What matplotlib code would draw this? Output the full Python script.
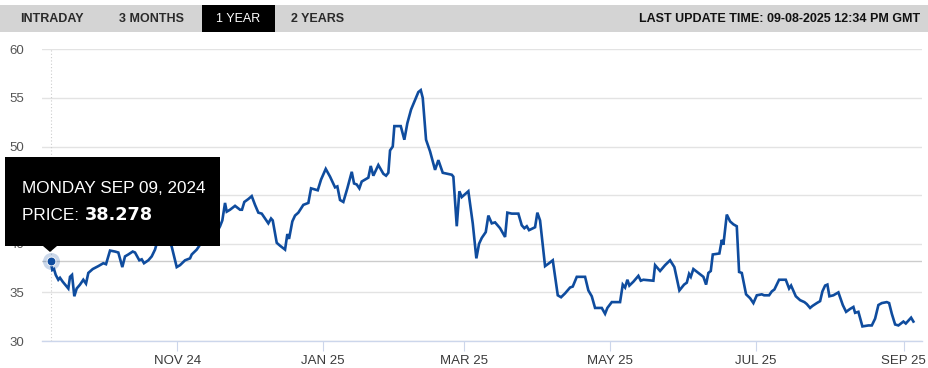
import numpy as np
import matplotlib
matplotlib.use("Agg")
import matplotlib.pyplot as plt
import matplotlib.dates as mdates
from matplotlib.patches import Rectangle, Polygon

# ---------------- data ----------------
start_date = "2024-09-09"
day_offsets = [
    0, 0.75, 1.46, 2.18, 3.26, 3.97, 5.10, 6.78, 7.45, 8.16, 9.00, 9.96, 10.96, 12.34,
    13.72, 14.85, 15.82, 17.66, 20.0, 22.09, 23.22, 24.9, 26.99, 28.37, 30.04, 31.17,
    32.55, 34.39, 35.36, 37.15, 38.16, 39.12, 40.92, 42.34, 43.72, 44.98, 46.65, 48.3,
    49.8, 50.71, 52.8, 54.18, 56.28, 58.37, 59.08, 61.17, 62.55, 64.6, 66.7, 68.8,
    70.92, 71.88, 73.01, 73.72, 75.1, 77.2, 79.29, 80.1, 81.09, 82.76, 84.18, 85.56,
    86.95, 88.37, 89.75, 91.13, 92.26, 92.97, 94.64, 96.03, 98.12, 99.08, 99.79,
    101.17, 102.3, 103.68, 105.77, 107.87, 109.0, 111.8, 113.18, 115.15, 116.95,
    119.04, 120.0, 121.13, 122.51, 124.18, 126.03, 126.99, 128.1, 129.2, 130.2,
    132.97, 133.97, 135.06, 137.15, 139.25, 140.38, 141.34, 142.05, 143.18, 143.85,
    146.53, 148.03, 149.29, 150.84, 153.89, 154.9, 155.73, 157.11, 158.79, 160.88,
    162.26, 164.1, 167.87, 168.54, 169.96, 171.05, 172.05, 174.81, 176.65, 178.16,
    179.29, 180.42, 182.09, 183.18, 184.6, 185.98, 188.08, 190.17, 191.13, 192.97,
    195.73, 197.15, 198.24, 199.25, 200.21, 202.72, 203.68, 204.81, 206.9, 208.58,
    210.13, 212.22, 213.6, 215.27, 217.36, 218.49, 220.17, 223.64, 225.02, 226.44,
    227.82, 230.63, 232.01, 232.97, 234.81, 238.28, 239.41, 240.38, 241.34, 242.18,
    243.85, 245.94, 246.95, 248.03, 252.22, 252.93, 255.02, 257.11, 259.21, 261.0,
    263.1, 265.06, 266.2, 267.15, 267.87, 268.95, 271.05, 273.14, 274.27, 275.23,
    276.23, 277.07, 279.83, 280.84, 281.51, 282.93, 284.31, 285.69, 287.11, 288.08,
    289.21, 291.0, 292.68, 294.06, 295.48, 297.57, 298.54, 300.63, 301.76, 302.85,
    304.81, 307.61, 309.0, 309.83, 311.8, 313.6, 315.4, 316.4, 317.78, 318.74,
    320.59, 321.97, 322.93, 324.06, 325.02, 325.86, 327.53, 329.62, 331.46, 332.85,
    334.52, 335.9, 336.61, 337.99, 339.67, 342.18, 343.6, 344.98, 346.36, 347.78,
    349.87, 350.84, 351.97, 353.35, 354.73, 356.82, 357.82, 358.91, 360.04, 361.0,
]
prices = [
    38.278, 37.3, 37.4, 36.8, 36.3, 36.5, 36.1, 35.6, 35.4, 36.6, 36.8, 34.6, 35.4, 35.8,
    36.3, 35.9, 37.0, 37.4, 37.7, 38.0, 37.9, 39.3, 39.2, 39.1, 37.6, 38.7,
    38.9, 39.2, 39.1, 38.3, 38.4, 38.0, 38.3, 38.7, 39.4, 40.5, 41.3, 41.0,
    40.2, 39.7, 37.6, 37.8, 38.3, 38.5, 38.9, 39.4, 39.9, 40.3, 41.0, 40.8,
    41.8, 42.4, 44.2, 43.3, 43.5, 43.9, 43.5, 43.5, 44.3, 44.6, 44.9, 44.0,
    43.2, 43.1, 42.6, 42.1, 42.6, 42.4, 40.1, 39.8, 39.4, 41.0, 40.5,
    42.3, 42.9, 43.2, 44.0, 44.2, 45.7, 45.5, 46.6, 47.7, 46.9,
    45.8, 45.9, 44.5, 44.3, 45.7, 47.4, 46.2, 46.1, 45.7, 46.4,
    46.8, 48.0, 47.0, 48.1, 47.2, 47.0, 47.3, 49.6, 50.0, 52.1,
    52.1, 50.7, 52.4, 53.8, 55.6, 55.8, 55.0, 50.7, 49.5, 47.6,
    48.6, 47.3, 47.1, 46.9, 41.8, 45.4, 44.8, 45.4, 42.1, 38.5,
    40.0, 40.6, 41.2, 42.9, 42.1, 42.2, 41.6, 40.7, 43.2, 43.1,
    43.1, 41.9, 41.6, 41.8, 41.4, 41.7, 43.2, 42.4, 37.7, 38.0,
    38.3, 34.7, 34.5, 34.9, 35.5, 35.6, 36.6, 36.6, 35.2, 34.6,
    33.4, 33.4, 32.8, 33.4, 34.0, 34.0, 35.8, 35.5, 36.3, 35.7,
    36.1, 36.7, 36.2, 36.3, 36.2, 37.8, 37.2, 37.8, 38.3, 37.6,
    35.2, 35.8, 36.0, 36.9, 36.6, 37.4, 37.0, 36.6, 35.8, 37.0,
    37.2, 38.9, 39.0, 40.4, 39.9, 43.0, 42.3, 42.0, 41.8, 37.1,
    37.0, 34.8, 34.4, 33.9, 34.7, 34.8, 34.7, 34.7, 35.1, 35.3,
    36.3, 36.3, 35.4, 35.7, 34.6, 34.2, 34.0, 33.8, 33.4, 33.6,
    33.9, 34.1, 35.1, 35.7, 35.8, 34.6, 34.7, 35.0, 33.7, 33.0,
    33.3, 33.5, 32.9, 33.0, 31.5, 31.6, 31.6, 32.3, 33.7, 33.9,
    34.0, 33.9, 32.8, 31.7, 31.6, 32.0, 31.8, 32.1, 32.4, 32.0,
]
x_tick_dates = ["2024-11-01", "2025-01-01", "2025-03-01", "2025-05-01", "2025-07-01", "2025-09-01"]
x_tick_labels = ["NOV 24", "JAN 25", "MAR 25", "MAY 25", "JUL 25", "SEP 25"]
y_ticks = [30, 35, 40, 45, 50, 55, 60]
tabs = ["INTRADAY", "3 MONTHS", "1 YEAR", "2 YEARS"]
active_tab = "1 YEAR"
update_text = "LAST UPDATE TIME: 09-08-2025 12:34 PM GMT"
tooltip_date = "MONDAY SEP 09, 2024"
tooltip_price = "38.278"

# ---------------- figure ----------------
W, H = 929, 368
fig = plt.figure(figsize=(W / 100, H / 100), dpi=100)
fig.patch.set_facecolor("white")
FONT = "Liberation Sans"


def fx(px):
    return px / W


def fy(py):
    return 1 - py / H


start = mdates.date2num(np.datetime64(start_date))
xs = start + np.array(day_offsets)

ax = fig.add_axes([fx(42), fy(341), fx(922) - fx(42), fy(49.3) - fy(341)])
ax.set_xlim(start - 3.56, start + 364.6)
ax.set_ylim(30, 60)
for s in ["top", "right", "left"]:
    ax.spines[s].set_visible(False)
ax.spines["bottom"].set_color("#ccd6eb")
ax.spines["bottom"].set_linewidth(1)

ax.set_yticks(y_ticks)
ax.set_yticklabels([str(v) for v in y_ticks], fontsize=9.5, color="#555555", family=FONT)
ax.tick_params(axis="y", length=0, pad=13)
ax.grid(axis="y", color="#e3e3e3", linewidth=1)
ax.set_axisbelow(True)

tick_nums = [mdates.date2num(np.datetime64(d)) for d in x_tick_dates]
ax.set_xticks(tick_nums)
ax.set_xticklabels(x_tick_labels, fontsize=9.5, color="#3a3a3a", family=FONT)
ax.tick_params(axis="x", length=7, color="#ccd6eb", pad=3)

# crosshairs
ax.axhline(prices[0], color="#cccccc", linewidth=1, zorder=1)
ax.axvline(xs[0], color="#cccccc", linewidth=0.8, linestyle=(0, (1, 2)), zorder=1)

ax.plot(xs, prices, color="#0f4c9e", linewidth=1.9, solid_joinstyle="miter", zorder=3)
ax.scatter([xs[0]], [prices[0]], s=150, color="#0f4c9e", alpha=0.22, zorder=4, linewidths=0)
ax.scatter([xs[0]], [prices[0]], s=40, color="#0f4c9e", edgecolors="white", linewidths=0.6, zorder=5)

# ---------------- tooltip ----------------
tip = Rectangle((fx(5), fy(246)), fx(220) - fx(5), fy(156.7) - fy(246),
                transform=fig.transFigure, facecolor="black", edgecolor="none", zorder=10)
fig.patches.append(tip)
tri = Polygon([[fx(43), fy(246)], [fx(57), fy(246)], [fx(50), fy(252)]], closed=True,
              transform=fig.transFigure, facecolor="black", edgecolor="none", zorder=10)
fig.patches.append(tri)
fig.text(fx(22), fy(193), tooltip_date, color="white", fontsize=12.3, family=FONT,
         va="baseline", ha="left", zorder=11)
t1 = fig.text(fx(22), fy(220), "PRICE: ", color="white", fontsize=12.3, family=FONT,
              va="baseline", ha="left", zorder=11)
fig.canvas.draw()
bb = t1.get_window_extent()
fig.text(bb.x1 / W + fx(1), fy(220), tooltip_price, color="white", fontsize=12.8,
         family=["DejaVu Sans"], fontweight="bold", va="baseline", ha="left", zorder=11)

# ---------------- top bar ----------------
bar = Rectangle((0, fy(32)), 1, fy(5) - fy(32), transform=fig.transFigure,
                facecolor="#d4d4d4", edgecolor="none", zorder=0)
fig.patches.append(bar)
active = Rectangle((fx(202), fy(32)), fx(275) - fx(202), fy(5) - fy(32),
                   transform=fig.transFigure, facecolor="black", edgecolor="none", zorder=1)
fig.patches.append(active)
tab_centers = [52, 152, 238.5, 318]
for lab, cx in zip(tabs, tab_centers):
    is_act = lab == active_tab
    fig.text(fx(cx), fy(18.5), lab, ha="center", va="center", fontsize=9,
             family=FONT, fontweight="normal" if is_act else "bold",
             color="white" if is_act else "#2a2a2a", zorder=2)
fig.text(fx(920), fy(18.5), update_text, ha="right", va="center", fontsize=9,
         family=FONT, fontweight="bold", color="#111111", zorder=2)

fig.savefig("out.png", dpi=100, facecolor="white")
